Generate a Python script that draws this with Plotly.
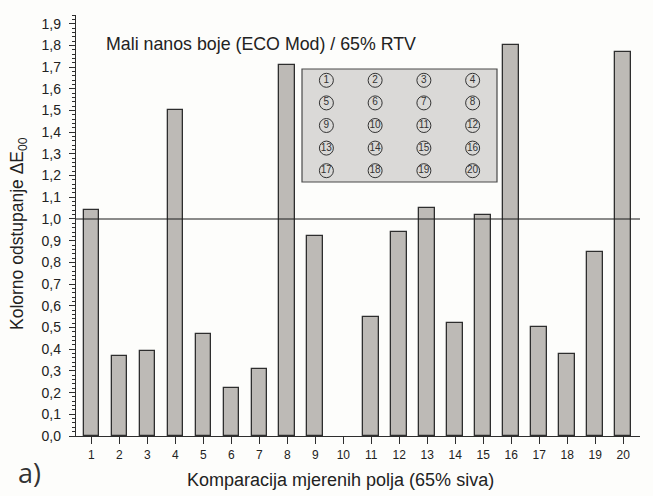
import plotly.graph_objects as go

# ---- data ----
categories = list(range(1, 21))
delta_e00 = [1.04, 0.37, 0.39, 1.50, 0.47, 0.22, 0.31, 1.71, 0.92, None,
             0.55, 0.94, 1.05, 0.52, 1.02, 1.80, 0.50, 0.38, 0.85, 1.77]
threshold = 1.0
inset_labels = list(range(1, 21))
inset_cols = 4

y_tickvals = [i / 10 for i in range(0, 20)]
y_ticktext = [f"{v:.1f}".replace(".", ",") for v in y_tickvals]

FONT = "Arial, 'Liberation Sans', sans-serif"
W, H = 653, 496
L, R, T, B = 76, 13, 15, 60
pw, ph = W - L - R, H - T - B

def px_x(px):
    return (px - L) / pw

def px_y(py):
    return (H - B - py) / ph

fig = go.Figure()

fig.add_trace(go.Bar(
    x=categories, y=delta_e00, width=0.56,
    marker=dict(color="#bdbab6", line=dict(color="#2e2e2e", width=1.3)),
    hoverinfo="skip", showlegend=False,
))

# inset grid of circled numbers
inset_x = [(i % inset_cols) + 1 for i in range(len(inset_labels))]
inset_y = [(i // inset_cols) + 1 for i in range(len(inset_labels))]
fig.add_trace(go.Scatter(
    x=inset_x, y=inset_y, xaxis="x2", yaxis="y2",
    mode="markers+text", text=[str(v) for v in inset_labels],
    textposition="middle center",
    textfont=dict(family=FONT, size=10, color="#333"),
    marker=dict(symbol="circle-open", size=14, color="#333", line=dict(width=1, color="#333")),
    hoverinfo="skip", showlegend=False,
))

box_x0, box_x1 = px_x(302), px_x(497)
box_y0, box_y1 = px_y(182), px_y(69)

fig.add_shape(type="rect", xref="paper", yref="paper",
              x0=box_x0, x1=box_x1, y0=box_y0, y1=box_y1,
              fillcolor="#dad9d7", line=dict(color="#4a4a4a", width=1.2), layer="below")
fig.add_shape(type="line", xref="paper", yref="y", x0=0, x1=1, y0=threshold, y1=threshold,
              line=dict(color="#1a1a1a", width=1.2), layer="above")

fig.update_layout(
    width=W, height=H,
    margin=dict(l=L, r=R, t=T, b=B),
    paper_bgcolor="#fdfdfb", plot_bgcolor="rgba(0,0,0,0)",
    font=dict(family=FONT, color="#222"),
    bargap=0,
    xaxis=dict(range=[0.45, 20.6], tickvals=categories, ticktext=[str(c) for c in categories],
               ticks="outside", ticklen=7, tickwidth=1.3, tickcolor="#2e2e2e",
               showline=True, linecolor="#2e2e2e", linewidth=1.3, showgrid=False, zeroline=False,
               tickfont=dict(size=12, color="#222"), fixedrange=True),
    yaxis=dict(range=[0, 1.94], tickvals=y_tickvals, ticktext=y_ticktext,
               ticks="outside", ticklen=6, tickwidth=1.3, tickcolor="#2e2e2e",
               minor=dict(dtick=0.02, ticks="outside", ticklen=3, tickwidth=1, tickcolor="#2e2e2e"),
               showline=True, linecolor="#2e2e2e", linewidth=1.3, showgrid=False, zeroline=False,
               ticklabelstandoff=5,
               tickfont=dict(size=14, color="#222"), fixedrange=True),
    xaxis2=dict(domain=[box_x0, box_x1], range=[0.5, 4.5], anchor="y2", visible=False, fixedrange=True),
    yaxis2=dict(domain=[box_y0, box_y1], range=[5.5, 0.5], anchor="x2", visible=False, fixedrange=True),
    annotations=[
        dict(text="Mali nanos boje (ECO Mod) / 65% RTV", xref="paper", yref="paper",
             x=px_x(104), y=px_y(44), xanchor="left", yanchor="middle", showarrow=False,
             font=dict(size=17.8, color="#222")),
        dict(text="Kolorno odstupanje \u0394E<sub>00</sub>", xref="paper", yref="paper",
             x=px_x(19), y=px_y(234), xanchor="center", yanchor="middle", textangle=-90,
             showarrow=False, font=dict(size=17.5, color="#222")),
        dict(text="Komparacija mjerenih polja (65% siva)", xref="paper", yref="paper",
             x=px_x(340), y=px_y(480), xanchor="center", yanchor="middle", showarrow=False,
             font=dict(size=18, color="#222")),
        dict(text="a)", xref="paper", yref="paper",
             x=px_x(29), y=px_y(472), xanchor="center", yanchor="middle", showarrow=False,
             font=dict(family="'Open Sans', sans-serif", size=27, color="#333")),
    ],
)

fig.write_html("out.html", config={"displayModeBar": False},
               post_script="document.body.style.margin='0';")
